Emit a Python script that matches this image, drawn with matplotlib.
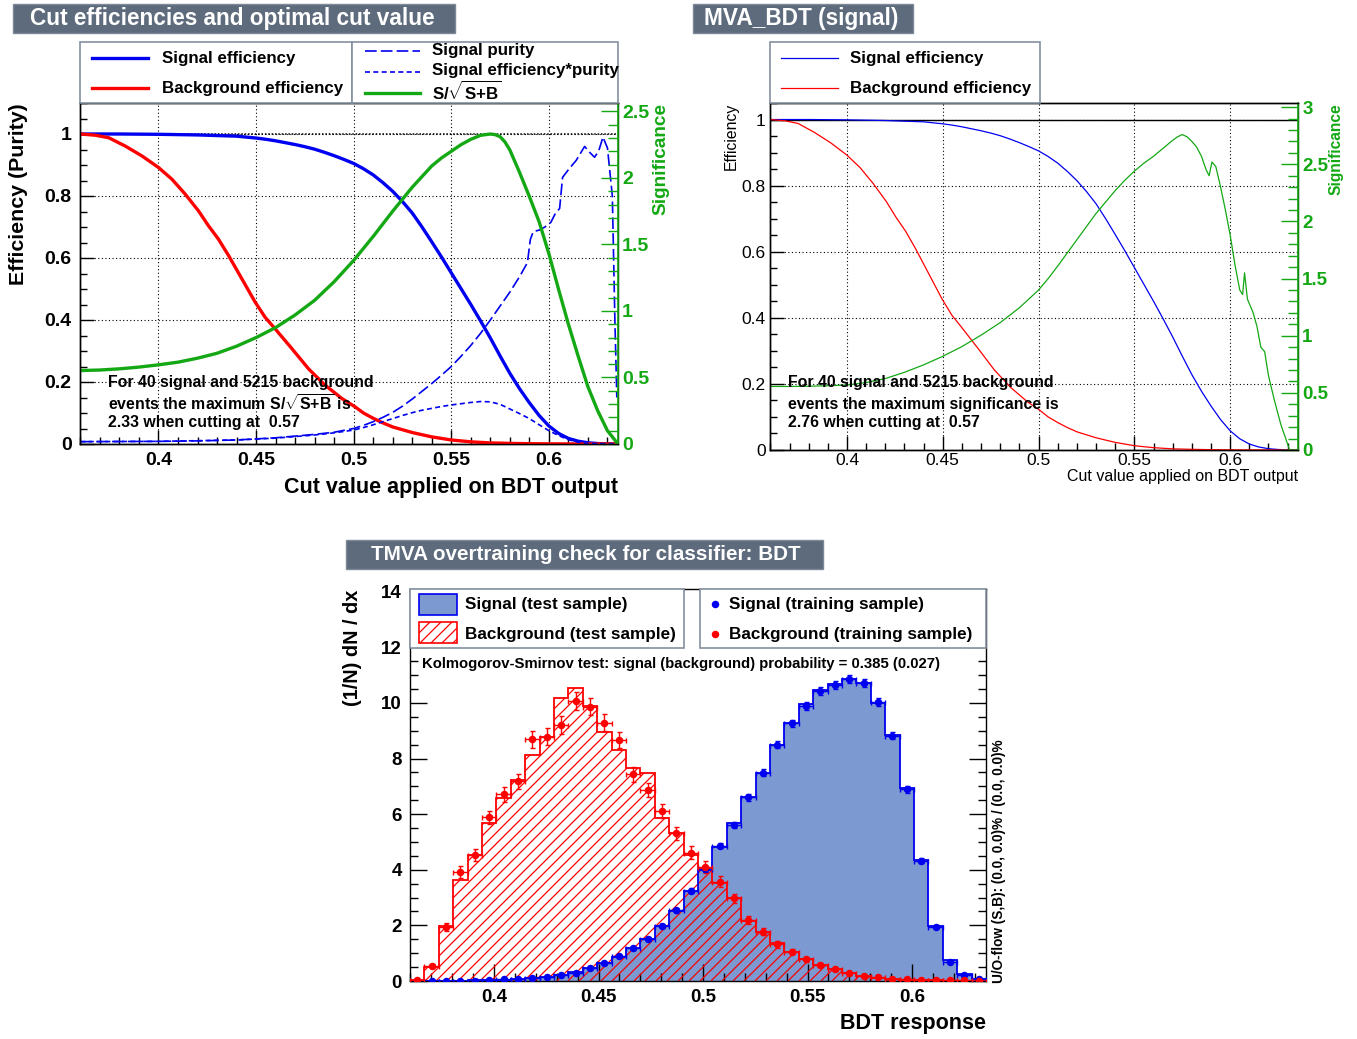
import numpy as np
import matplotlib
matplotlib.use("Agg")
import matplotlib.pyplot as plt
from matplotlib.patches import Rectangle
from matplotlib.collections import LineCollection
from matplotlib.ticker import MultipleLocator, FuncFormatter

# ---------------- data ----------------
bdt_min, bdt_max = 0.3598, 0.6354
n_bins = 40

# cut efficiencies vs. cut value
sig_eff_x = [0.36, 0.38, 0.40, 0.42, 0.43, 0.44, 0.445, 0.45, 0.455, 0.46, 0.465, 0.47, 0.475,
             0.48, 0.485, 0.49, 0.495, 0.50, 0.505, 0.51, 0.515, 0.52, 0.525, 0.53, 0.535,
             0.54, 0.545, 0.55, 0.555, 0.56, 0.565, 0.57, 0.575, 0.58, 0.585, 0.59, 0.595,
             0.60, 0.605, 0.61, 0.615, 0.62, 0.625, 0.63, 0.6354]
sig_eff = [1.0, 1.0, 0.999, 0.997, 0.995, 0.993, 0.990, 0.987, 0.983, 0.978, 0.972, 0.966,
           0.959, 0.951, 0.941, 0.930, 0.918, 0.905, 0.888, 0.868, 0.843, 0.815, 0.782, 0.745,
           0.700, 0.652, 0.603, 0.552, 0.501, 0.450, 0.397, 0.342, 0.284, 0.228, 0.178, 0.133,
           0.092, 0.058, 0.034, 0.018, 0.009, 0.004, 0.0015, 0.0005, 0.0]

bkg_eff_x = [0.36, 0.3677, 0.3745, 0.383, 0.3916, 0.40, 0.4069, 0.4137, 0.4205, 0.4256,
             0.4307, 0.4359, 0.4427, 0.4495, 0.4546, 0.4597, 0.4683, 0.4768, 0.4853, 0.4939,
             0.5007, 0.505, 0.51, 0.515, 0.52, 0.525, 0.53, 0.535, 0.54, 0.545, 0.55, 0.555,
             0.56, 0.57, 0.58, 0.59, 0.60, 0.62, 0.6354]
bkg_eff = [1.0, 0.996, 0.988, 0.961, 0.929, 0.892, 0.854, 0.806, 0.752, 0.704, 0.661, 0.608,
           0.533, 0.458, 0.409, 0.372, 0.308, 0.243, 0.190, 0.147, 0.120, 0.100, 0.083, 0.068,
           0.055, 0.046, 0.037, 0.030, 0.023, 0.018, 0.013, 0.010, 0.007, 0.0035, 0.002,
           0.001, 0.0005, 0.0001, 0.0]

purity_x = [0.36, 0.40, 0.42, 0.44, 0.46, 0.48, 0.49, 0.50, 0.505, 0.51, 0.515, 0.52, 0.525,
            0.53, 0.535, 0.54, 0.545, 0.55, 0.555, 0.56, 0.565, 0.57, 0.575, 0.58, 0.585,
            0.589, 0.5905, 0.592, 0.595, 0.598, 0.601, 0.603, 0.6055, 0.607, 0.610, 0.614,
            0.6183, 0.621, 0.6234, 0.6255, 0.6277, 0.630, 0.6325, 0.6338, 0.6348]
purity = [0.0076, 0.0085, 0.010, 0.013, 0.020, 0.031, 0.038, 0.050, 0.060, 0.072, 0.086,
          0.102, 0.122, 0.145, 0.170, 0.195, 0.222, 0.250, 0.283, 0.318, 0.357, 0.400, 0.445,
          0.490, 0.540, 0.585, 0.660, 0.685, 0.690, 0.700, 0.715, 0.740, 0.760, 0.860, 0.885,
          0.915, 0.960, 0.940, 0.925, 0.945, 0.990, 0.955, 0.800, 0.400, 0.150]

effpur_x = [0.36, 0.40, 0.44, 0.46, 0.48, 0.49, 0.50, 0.505, 0.51, 0.515, 0.52, 0.525, 0.53,
            0.535, 0.54, 0.545, 0.55, 0.555, 0.56, 0.565, 0.57, 0.575, 0.58, 0.585, 0.59,
            0.595, 0.60, 0.605, 0.61, 0.615, 0.62, 0.63, 0.6354]
effpur = [0.0076, 0.0085, 0.013, 0.019, 0.029, 0.036, 0.045, 0.053, 0.062, 0.072, 0.082,
          0.092, 0.101, 0.109, 0.115, 0.121, 0.126, 0.130, 0.134, 0.137, 0.136, 0.128, 0.113,
          0.098, 0.082, 0.062, 0.043, 0.027, 0.014, 0.006, 0.002, 0.0, 0.0]

# S/sqrt(S+B) (left panel)
ssb_x = [0.36, 0.37, 0.38, 0.39, 0.40, 0.41, 0.42, 0.43, 0.44, 0.45, 0.46, 0.47, 0.48, 0.49,
         0.50, 0.51, 0.52, 0.53, 0.535, 0.54, 0.545, 0.55, 0.555, 0.56, 0.565, 0.57, 0.5725,
         0.575, 0.5775, 0.58, 0.585, 0.59, 0.595, 0.60, 0.605, 0.61, 0.615, 0.62, 0.625,
         0.63, 0.6354]
ssb = [0.552, 0.556, 0.565, 0.578, 0.595, 0.615, 0.645, 0.682, 0.735, 0.800, 0.875, 0.970,
       1.080, 1.220, 1.380, 1.560, 1.750, 1.930, 2.010, 2.090, 2.150, 2.200, 2.250, 2.290,
       2.320, 2.330, 2.325, 2.310, 2.270, 2.210, 2.040, 1.860, 1.670, 1.430, 1.160, 0.900,
       0.660, 0.430, 0.250, 0.100, 0.0]
ssb_max = 2.33

# significance (right panel)
sgn_x = [0.36, 0.37, 0.38, 0.39, 0.40, 0.41, 0.42, 0.43, 0.44, 0.45, 0.46, 0.47, 0.48, 0.49,
         0.50, 0.505, 0.51, 0.52, 0.53, 0.54, 0.545, 0.55, 0.555, 0.56, 0.565, 0.57, 0.5725,
         0.575, 0.5775, 0.58, 0.5825, 0.585, 0.5875, 0.589, 0.5905, 0.5925, 0.595, 0.5975,
         0.60, 0.6025, 0.605, 0.6065, 0.6075, 0.609, 0.612, 0.614, 0.616, 0.618, 0.62,
         0.623, 0.6265, 0.629, 0.631, 0.6354]
sgn = [0.556, 0.556, 0.558, 0.562, 0.569, 0.590, 0.625, 0.680, 0.745, 0.820, 0.905, 1.005,
       1.115, 1.245, 1.400, 1.500, 1.610, 1.840, 2.070, 2.270, 2.360, 2.440, 2.510, 2.570,
       2.640, 2.710, 2.740, 2.760, 2.740, 2.700, 2.650, 2.570, 2.450, 2.400, 2.520, 2.480,
       2.300, 2.100, 1.880, 1.620, 1.400, 1.360, 1.550, 1.320, 1.200, 1.080, 0.900, 0.860,
       0.650, 0.440, 0.220, 0.100, 0.0, 0.0]
sgn_max = 2.76

# overtraining check: normalised BDT response, 40 bins
sig_test = [0.0, 0.0, 0.01, 0.01, 0.02, 0.03, 0.05, 0.08, 0.12, 0.16, 0.22, 0.34, 0.48, 0.63,
            0.87, 1.18, 1.50, 1.98, 2.52, 3.25, 4.00, 4.83, 5.67, 6.63, 7.49, 8.49, 9.27,
            9.96, 10.47, 10.68, 10.88, 10.71, 10.01, 8.85, 6.93, 4.35, 1.98, 0.76, 0.24, 0.06]
bkg_test = [0.05, 0.52, 1.98, 3.63, 4.52, 5.67, 6.57, 7.23, 8.13, 8.79, 10.17, 10.55, 9.89,
            8.97, 8.31, 7.65, 7.47, 5.88, 5.31, 4.53, 4.02, 3.54, 2.97, 2.17, 1.77, 1.35,
            1.06, 0.78, 0.58, 0.42, 0.28, 0.17, 0.12, 0.07, 0.05, 0.03, 0.02, 0.01, 0.01, 0.0]
sig_train = [0.0, 0.0, 0.0, 0.01, 0.01, 0.03, 0.06, 0.08, 0.12, 0.16, 0.20, 0.30, 0.46, 0.64,
             0.90, 1.18, 1.50, 1.98, 2.54, 3.24, 4.02, 4.87, 5.61, 6.61, 7.49, 8.50, 9.27,
             9.89, 10.44, 10.64, 10.86, 10.71, 10.04, 8.83, 6.89, 4.32, 1.95, 0.70, 0.22, 0.06]
sig_train_err = [0.0, 0.0, 0.0, 0.01, 0.01, 0.01, 0.02, 0.02, 0.02, 0.03, 0.03, 0.03, 0.04,
                 0.05, 0.05, 0.06, 0.07, 0.07, 0.08, 0.09, 0.10, 0.10, 0.11, 0.12, 0.12, 0.13,
                 0.13, 0.14, 0.14, 0.14, 0.14, 0.14, 0.14, 0.13, 0.12, 0.09, 0.06, 0.04, 0.02, 0.01]
bkg_train = [0.04, 0.54, 1.95, 3.93, 4.52, 5.89, 6.71, 7.19, 8.69, 8.79, 9.21, 10.07, 9.87,
             9.29, 8.67, 7.43, 6.87, 6.12, 5.31, 4.62, 4.09, 3.57, 2.97, 2.19, 1.77, 1.32,
             1.06, 0.78, 0.58, 0.42, 0.28, 0.18, 0.13, 0.08, 0.06, 0.05, 0.03, 0.02, 0.02, 0.01]
bkg_train_err = [0.02, 0.08, 0.15, 0.21, 0.22, 0.24, 0.26, 0.27, 0.30, 0.30, 0.31, 0.32, 0.32,
                 0.31, 0.30, 0.28, 0.26, 0.25, 0.23, 0.22, 0.21, 0.19, 0.17, 0.15, 0.13, 0.12,
                 0.10, 0.09, 0.08, 0.07, 0.05, 0.04, 0.04, 0.03, 0.02, 0.02, 0.02, 0.01, 0.01, 0.01]
ks_signal, ks_background = 0.385, 0.027
n_signal, n_background = 40, 5215
best_cut = 0.57

# ---------------- style ----------------
W, H = 1357, 1039
GREEN = "#14a814"
BLUE = "#0000f0"
RED = "#ff0000"
SIG_FILL = "#7d99d1"
TITLE_BG = "#5d6b7d"
BOX_EDGE = "#8591a0"

plt.rcParams["font.family"] = ["Liberation Sans", "DejaVu Sans"]
plt.rcParams["mathtext.fontset"] = "custom"
plt.rcParams["mathtext.rm"] = "Liberation Sans:bold"
plt.rcParams["mathtext.it"] = "Liberation Sans:bold"
plt.rcParams["mathtext.bf"] = "Liberation Sans:bold"
plt.rcParams["axes.linewidth"] = 1.0

fig = plt.figure(figsize=(W / 100, H / 100), dpi=100)


def px_axes(x0, y0, x1, y1):
    return fig.add_axes([x0 / W, 1 - y1 / H, (x1 - x0) / W, (y1 - y0) / H])


fmt_g = FuncFormatter(lambda v, p: f"{v:g}")


def style_axes(ax, xmaj, xmin_, ymaj, ymin_, size, weight, maj_len, min_len,
               xpad, ypad, top=False, right=False):
    ax.xaxis.set_major_locator(MultipleLocator(xmaj))
    ax.xaxis.set_minor_locator(MultipleLocator(xmin_))
    ax.yaxis.set_major_locator(MultipleLocator(ymaj))
    ax.yaxis.set_minor_locator(MultipleLocator(ymin_))
    ax.xaxis.set_major_formatter(fmt_g)
    ax.yaxis.set_major_formatter(fmt_g)
    ax.tick_params(which="both", direction="in", top=top, right=right, labelsize=size)
    ax.tick_params(which="major", length=maj_len, width=1)
    ax.tick_params(which="minor", length=min_len, width=1)
    ax.tick_params(axis="x", pad=xpad)
    ax.tick_params(axis="y", pad=ypad)
    plt.setp(ax.get_xticklabels() + ax.get_yticklabels(), fontweight=weight)


def style_right(axr, ymaj, ymin_, size):
    axr.yaxis.set_major_locator(MultipleLocator(ymaj))
    axr.yaxis.set_minor_locator(MultipleLocator(ymin_))
    axr.yaxis.set_major_formatter(fmt_g)
    axr.tick_params(which="both", direction="in", colors=GREEN, labelsize=size, pad=3)
    axr.tick_params(which="major", length=12, width=1)
    axr.tick_params(which="minor", length=7, width=1)
    axr.spines["right"].set_color(GREEN)
    axr.spines["right"].set_linewidth(1.2)
    plt.setp(axr.get_yticklabels(), fontweight="bold")


grid_kw = dict(color="black", linestyle=(0, (1, 2.2)), linewidth=0.8)

# ---------------- cut efficiencies (left) ----------------
ax1 = px_axes(80, 103, 618, 444)
ax1.set_xlim(bdt_min, bdt_max)
ax1.set_ylim(0, 1.1)
ax1.grid(True, which="major", **grid_kw)
ax1.axhline(1.0, color="black", linestyle=(0, (1, 1.2)), linewidth=1.1, zorder=1)
ax1.plot(sig_eff_x, sig_eff, color=BLUE, lw=2.4, zorder=3)
ax1.plot(bkg_eff_x, bkg_eff, color=RED, lw=2.4, zorder=3)
ax1.plot(purity_x, purity, color=BLUE, lw=1.2, dashes=(7, 2.5), zorder=3)
ax1.plot(effpur_x, effpur, color=BLUE, lw=1.2, dashes=(3, 2), zorder=3)
style_axes(ax1, 0.05, 0.01, 0.2, 0.05, 14, "bold", 10, 5, 6, 6)
ax1r = ax1.twinx()
ax1r.set_ylim(0, ssb_max * 1.1)
ax1r.plot(ssb_x, ssb, color=GREEN, lw=2.4)
style_right(ax1r, 0.5, 0.1, 14)

# ---------------- MVA_BDT (signal) (right) ----------------
ax2 = px_axes(770, 103, 1298, 450)
ax2.set_xlim(bdt_min, bdt_max)
ax2.set_ylim(0, 1.05)
ax2.grid(True, which="major", **grid_kw)
ax2.axhline(1.0, color="black", lw=1.0, zorder=1)
ax2.plot(sig_eff_x, sig_eff, color=BLUE, lw=0.9, zorder=3)
ax2.plot(bkg_eff_x, bkg_eff, color=RED, lw=0.9, zorder=3)
style_axes(ax2, 0.05, 0.01, 0.2, 0.05, 12.5, "normal", 10, 5, 2, 3)
ax2r = ax2.twinx()
ax2r.set_ylim(0, sgn_max * 1.1)
ax2r.plot(sgn_x, sgn, color=GREEN, lw=0.9)
style_right(ax2r, 0.5, 0.1, 13.5)

# ---------------- overtraining check (bottom) ----------------
ax3 = px_axes(410, 589, 986, 981)
ax3_w, ax3_h = 576, 392
edges = np.linspace(bdt_min, bdt_max, n_bins + 1)
centers = 0.5 * (edges[:-1] + edges[1:])
half_w = 0.5 * (edges[1] - edges[0])
ax3.set_xlim(bdt_min, bdt_max)
ax3.set_ylim(0, 14.1)
ax3.stairs(sig_test, edges, fill=True, facecolor=SIG_FILL, edgecolor="none", zorder=1)
bkg_shape = ax3.stairs(bkg_test, edges, fill=True, facecolor="none", edgecolor="none", zorder=2)

# diagonal hatching of the background histogram (45 deg in screen space)
offs = np.arange(-ax3_h, ax3_w + 11, 11.0)
segs = [[(o / ax3_w, 0), ((o + ax3_h) / ax3_w, 1)] for o in offs]
lc = LineCollection(segs, colors=RED, linewidths=0.9, transform=ax3.transAxes, zorder=2)
ax3.add_collection(lc, autolim=False)
lc.set_clip_path(bkg_shape)

ax3.stairs(sig_test, edges, color=BLUE, lw=1.3, zorder=3)
ax3.stairs(bkg_test, edges, color=RED, lw=1.3, zorder=3)
ax3.errorbar(centers, sig_train, xerr=half_w, yerr=sig_train_err, fmt="o", color=BLUE,
             ms=4.4, elinewidth=1.0, capsize=1.8, zorder=4)
ax3.errorbar(centers, bkg_train, xerr=half_w, yerr=bkg_train_err, fmt="o", color=RED,
             ms=4.4, elinewidth=1.0, capsize=1.8, zorder=4)
style_axes(ax3, 0.05, 0.01, 2, 0.5, 13.5, "bold", 12, 6, 6, 6, top=True, right=True)

# ---------------- titles, legends, labels (pixel overlay) ----------------
ov = fig.add_axes([0, 0, 1, 1])
ov.set_xlim(0, W)
ov.set_ylim(H, 0)
ov.axis("off")


def title_box(x0, y0, x1, y1, text, tx, size):
    ov.add_patch(Rectangle((x0, y0), x1 - x0, y1 - y0, facecolor=TITLE_BG,
                           edgecolor="#7d8997", lw=1))
    ov.text(tx, (y0 + y1) / 2 + 0.5, text, color="white", fontsize=size,
            fontweight="bold", ha="left", va="center")


def box(x0, y0, x1, y1):
    ov.add_patch(Rectangle((x0, y0), x1 - x0, y1 - y0, facecolor="white",
                           edgecolor=BOX_EDGE, lw=1.2, zorder=5))


def ltext(x, y, s, size=12.2, weight="bold", **kw):
    ov.text(x, y, s, fontsize=size, fontweight=weight, va="center", ha="left",
            zorder=6, **kw)


title_box(13, 4, 455, 33, "Cut efficiencies and optimal cut value", 30, 16.3)
title_box(693, 4, 913, 33, "MVA_BDT (signal)", 704, 16.3)
title_box(346, 540, 823, 569, "TMVA overtraining check for classifier: BDT", 371, 14.9)

# legend, left panel
box(80, 42, 352, 103)
box(352, 42, 618, 103)
ov.plot([92, 148], [58, 58], color=BLUE, lw=2.4, zorder=6)
ltext(162, 58, "Signal efficiency")
ov.plot([92, 148], [88, 88], color=RED, lw=2.4, zorder=6)
ltext(162, 88, "Background efficiency")
ov.plot([365, 420], [51, 51], color=BLUE, lw=1.2, dashes=(7, 2.5), zorder=6)
ltext(432, 51, "Signal purity")
ov.plot([365, 420], [72, 72], color=BLUE, lw=1.2, dashes=(3, 2), zorder=6)
ltext(432, 70, "Signal efficiency*purity")
ov.plot([365, 420], [93, 93], color=GREEN, lw=2.4, zorder=6)
ltext(432, 91, r"S/$\sqrt{\mathrm{S{+}B}}$")

# legend, right panel
box(770, 42, 1040, 103)
ov.plot([781, 838], [58, 58], color=BLUE, lw=0.9, zorder=6)
ltext(850, 58, "Signal efficiency")
ov.plot([781, 838], [88, 88], color=RED, lw=0.9, zorder=6)
ltext(850, 88, "Background efficiency")

# legend, overtraining panel
box(410, 589, 684, 648)
box(700, 589, 986, 648)
ov.add_patch(Rectangle((419, 594), 38, 21, facecolor=SIG_FILL, edgecolor=BLUE, lw=1.2, zorder=6))
hb = Rectangle((419, 622), 38, 21, facecolor="white", edgecolor=RED, lw=1.2, zorder=6)
ov.add_patch(hb)
loffs = np.arange(-21, 38 + 11, 11.0)
lsegs = [[(419 + o, 643), (419 + o + 21, 622)] for o in loffs]
llc = LineCollection(lsegs, colors=RED, linewidths=0.9, zorder=6)
ov.add_collection(llc, autolim=False)
llc.set_clip_path(hb)
ltext(465, 604, "Signal (test sample)", 12.3)
ltext(465, 634, "Background (test sample)", 12.3)
ov.plot([715], [604], "o", color=BLUE, ms=4.4, zorder=6)
ov.plot([715], [634], "o", color=RED, ms=4.4, zorder=6)
ltext(729, 604, "Signal (training sample)", 12.3)
ltext(729, 634, "Background (training sample)", 12.3)
ltext(422, 664, "Kolmogorov-Smirnov test: signal (background) probability = "
      f"{ks_signal:.3g} ({ks_background:.2g})", 10.7)

# axis titles
ov.text(19, 103, "Efficiency (Purity)", rotation=90, ha="center", va="top",
        fontsize=15.4, fontweight="bold")
ov.text(661, 103, "Significance", rotation=90, ha="center", va="top",
        fontsize=13.7, fontweight="bold", color=GREEN)
ov.text(618, 488, "Cut value applied on BDT output", ha="right", va="center",
        fontsize=15.5, fontweight="bold")
ov.text(731, 103, "Efficiency", rotation=90, ha="center", va="top", fontsize=11.3)
ov.text(1336, 103, "Significance", rotation=90, ha="center", va="top",
        fontsize=11.2, fontweight="bold", color=GREEN)
ov.text(1298, 476, "Cut value applied on BDT output", ha="right", va="center",
        fontsize=11.5)
ov.text(352, 590, "(1/N) dN / dx", rotation=90, ha="center", va="top",
        fontsize=14.3, fontweight="bold")
ov.text(986, 1023, "BDT response", ha="right", va="center", fontsize=15.5,
        fontweight="bold")
ov.text(999, 983, "U/O-flow (S,B): (0.0, 0.0)% / (0.0, 0.0)%", rotation=90,
        ha="center", va="bottom", fontsize=9.8, fontweight="bold")

# optimal-cut annotations
ltext(108, 383, f"For {n_signal} signal and {n_background} background", 11.4)
ltext(108, 404, r"events the maximum S/$\sqrt{\mathrm{S{+}B}}$ is", 11.4)
ltext(108, 423, f"{ssb_max:.2f} when cutting at  {best_cut:.2f}", 11.4)
ltext(788, 383, f"For {n_signal} signal and {n_background} background", 11.4)
ltext(788, 404, "events the maximum significance is", 11.4)
ltext(788, 423, f"{sgn_max:.2f} when cutting at  {best_cut:.2f}", 11.4)

fig.savefig("out.png", dpi=100)
